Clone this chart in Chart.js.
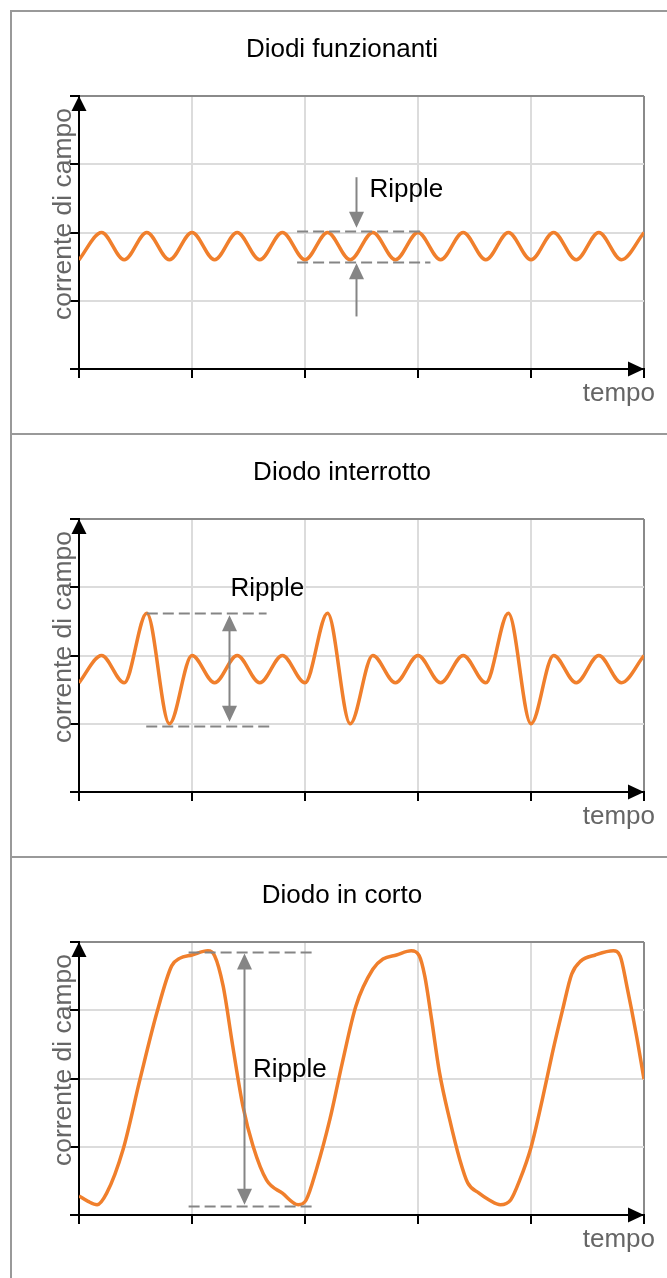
<!DOCTYPE html>
<html>
<head>
<meta charset="utf-8">
<script src="https://cdn.jsdelivr.net/npm/chart.js@4"></script>
<style>
body{margin:0;background:#fff;width:667px;height:1278px;overflow:hidden;position:relative}
.frame{position:absolute;left:10px;top:10px;width:700px;height:1300px;border-left:2px solid #999;border-top:2px solid #999}
.sep{position:absolute;left:10px;width:700px;height:2px;background:#999}
canvas{position:absolute;left:0}
</style>
</head>
<body>
<div class="frame"></div>
<div class="sep" style="top:433px"></div>
<div class="sep" style="top:856px"></div>
<canvas id="c1" width="667" height="423" style="top:0px"></canvas>
<canvas id="c2" width="667" height="423" style="top:423px"></canvas>
<canvas id="c3" width="667" height="423" style="top:846px"></canvas>
<script>
// tempo in divisioni di griglia (5 divisioni), corrente in divisioni (4 divisioni)
var tempoOnda = [0,0.2,0.4,0.6,0.8,1,1.2,1.4,1.6,1.8,2,2.2,2.4,2.6,2.8,3,3.2,3.4,3.6,3.8,4,4.2,4.4,4.6,4.8,5];
var correnteFunzionanti = [1.6,2,1.6,2,1.6,2,1.6,2,1.6,2,1.6,2,1.6,2,1.6,2,1.6,2,1.6,2,1.6,2,1.6,2,1.6,2];
var correnteInterrotto = [1.6,2,1.6,2.62,1,2,1.6,2,1.6,2,1.6,2.62,1,2,1.6,2,1.6,2,1.6,2.62,1,2,1.6,2,1.6,2];
var tempoCorto = [0,0.08,0.16,0.245,0.39,0.54,0.69,0.82,0.89,1.0,1.14,1.2,1.275,1.36,1.45,1.54,1.66,1.80,1.94,2.01,2.10,2.22,2.33,2.45,2.6,2.69,2.81,2.94,3.01,3.06,3.12,3.19,3.28,3.37,3.44,3.54,3.63,3.73,3.82,3.9,4.0,4.1,4.19,4.28,4.36,4.44,4.57,4.73,4.79,4.85,4.93,5.0];
var correnteCorto = [0.28,0.2,0.15,0.32,0.96,1.99,2.97,3.65,3.76,3.81,3.87,3.8,3.36,2.48,1.6,1.01,0.51,0.32,0.15,0.22,0.66,1.40,2.23,3.06,3.6,3.75,3.81,3.87,3.8,3.5,2.87,2.09,1.4,0.81,0.47,0.32,0.22,0.15,0.22,0.51,0.99,1.69,2.38,3.01,3.53,3.72,3.81,3.87,3.79,3.34,2.66,1.99];
var titoli = ["Diodi funzionanti", "Diodo interrotto", "Diodo in corto"];
var tickX = 5, tickY = 4;

var FONT = '"Liberation Sans", Arial, sans-serif';
var ARANCIO = "#f07f2c";
var GRIGIO = "#858585";

// annotazioni "Ripple", in unita' degli assi
var ripple1 = {dash: [[1.93, 3.03, 2.02], [1.93, 3.11, 1.57]],
    arrows: [[2.455, 2.81, 2.07], [2.455, 0.77, 1.55]], text: [2.57, 2.62]};
var ripple2 = {dash: [[0.6, 1.66, 2.62], [0.595, 1.69, 0.97]],
    arrows: [[1.326, 1.8, 2.59], [1.326, 1.8, 1.03]], text: [1.34, 2.97]};
var ripple3 = {dash: [[0.97, 2.07, 3.85], [0.97, 2.07, 0.13]],
    arrows: [[1.46, 2, 3.83], [1.46, 2, 0.15]], text: [1.54, 2.12]};

function punti(xs, ys) {
    var out = [];
    for (var i = 0; i < xs.length; i++) out.push({x: xs[i], y: ys[i]});
    return out;
}

function freccia(ctx, x, y, dir, len, half, color) {
    ctx.fillStyle = color;
    ctx.beginPath();
    ctx.moveTo(x, y);
    if (dir == "up") { ctx.lineTo(x - half, y + len); ctx.lineTo(x + half, y + len); }
    if (dir == "down") { ctx.lineTo(x - half, y - len); ctx.lineTo(x + half, y - len); }
    if (dir == "right") { ctx.lineTo(x - len, y - half); ctx.lineTo(x - len, y + half); }
    ctx.closePath();
    ctx.fill();
}

var schema = {
    id: "schema",
    afterDraw: function(chart, args, opts) {
        var ctx = chart.ctx, a = chart.chartArea;
        var sx = chart.scales.x, sy = chart.scales.y;
        ctx.save();
        // titolo
        ctx.font = "26px " + FONT;
        ctx.fillStyle = "#000";
        ctx.textAlign = "center";
        ctx.textBaseline = "middle";
        ctx.fillText(opts.titolo, 342, 50);
        // etichette assi
        ctx.fillStyle = "#666";
        ctx.textAlign = "right";
        ctx.textBaseline = "alphabetic";
        ctx.fillText("tempo", 655, 401);
        ctx.save();
        ctx.translate(71, 214);
        ctx.rotate(-Math.PI / 2);
        ctx.textAlign = "center";
        ctx.font = "26.5px " + FONT;
        ctx.fillText("corrente di campo", 0, 0);
        ctx.restore();
        // frecce degli assi
        freccia(ctx, a.left, a.top, "up", 15, 7.5, "#000");
        freccia(ctx, a.right, a.bottom, "right", 16, 7.5, "#000");
        // ripple
        var r = opts.ripple;
        ctx.strokeStyle = GRIGIO;
        ctx.lineWidth = 2;
        ctx.setLineDash([11, 5]);
        r.dash.forEach(function(d) {
            var yy = Math.round(sy.getPixelForValue(d[2])) + 0.5;
            ctx.beginPath();
            ctx.moveTo(sx.getPixelForValue(d[0]), yy);
            ctx.lineTo(sx.getPixelForValue(d[1]), yy);
            ctx.stroke();
        });
        ctx.setLineDash([]);
        r.arrows.forEach(function(f) {
            var xx = Math.round(sx.getPixelForValue(f[0])) + 0.5;
            var y0 = sy.getPixelForValue(f[1]), y1 = sy.getPixelForValue(f[2]);
            var dir = y1 < y0 ? "up" : "down";
            var stop = dir == "up" ? y1 + 14 : y1 - 14;
            ctx.beginPath();
            ctx.moveTo(xx, y0);
            ctx.lineTo(xx, stop);
            ctx.stroke();
            freccia(ctx, xx, y1, dir, 16, 7.5, GRIGIO);
        });
        ctx.fillStyle = "#000";
        ctx.textAlign = "left";
        ctx.textBaseline = "middle";
        ctx.fillText("Ripple", sx.getPixelForValue(r.text[0]), sy.getPixelForValue(r.text[1]));
        ctx.restore();
    }
};

function grafico(id, titolo, xs, ys, ripple) {
    return new Chart(document.getElementById(id), {
        type: "line",
        data: {
            datasets: [{
                data: punti(xs, ys),
                borderColor: ARANCIO,
                borderWidth: 3.5,
                pointRadius: 0,
                fill: false,
                cubicInterpolationMode: "monotone"
            }]
        },
        options: {
            responsive: false,
            animation: false,
            devicePixelRatio: 1,
            layout: {autoPadding: false, padding: {top: 96, right: 23, bottom: 0, left: 0}},
            plugins: {
                legend: {display: false},
                tooltip: {enabled: false},
                schema: {titolo: titolo, ripple: ripple}
            },
            scales: {
                x: {
                    type: "linear", min: 0, max: tickX,
                    ticks: {stepSize: 1, display: false},
                    grid: {
                        color: function(c) {
                            if (c.tick.value == tickX) return "#8a8a8a";
                            if (c.tick.value == 0) return "rgba(0,0,0,0)";
                            return "#dcdcdc";
                        },
                        lineWidth: 2, tickColor: "#000", tickLength: 9, tickWidth: 2
                    },
                    border: {color: "#000", width: 2},
                    afterFit: function(s) { s.height = 54; }
                },
                y: {
                    min: 0, max: tickY,
                    ticks: {stepSize: 1, display: false},
                    grid: {
                        color: function(c) {
                            if (c.tick.value == tickY) return "#8a8a8a";
                            if (c.tick.value == 0) return "rgba(0,0,0,0)";
                            return "#dcdcdc";
                        },
                        lineWidth: 2, tickColor: "#000", tickLength: 9, tickWidth: 2
                    },
                    border: {color: "#000", width: 2},
                    afterFit: function(s) { s.width = 79; }
                }
            }
        },
        plugins: [schema]
    });
}

grafico("c1", titoli[0], tempoOnda, correnteFunzionanti, ripple1);
grafico("c2", titoli[1], tempoOnda, correnteInterrotto, ripple2);
grafico("c3", titoli[2], tempoCorto, correnteCorto, ripple3);
</script>
</body>
</html>
